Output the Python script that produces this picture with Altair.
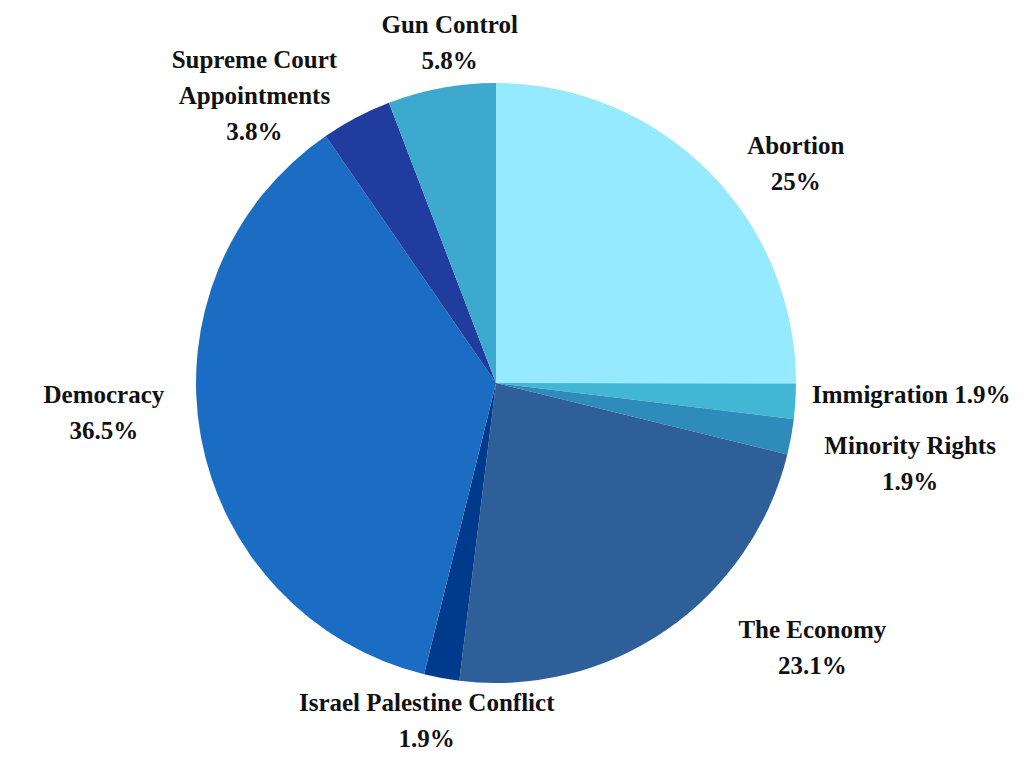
import altair as alt
import pandas as pd

topics = ["Abortion", "Immigration", "Minority Rights", "The Economy",
          "Israel Palestine Conflict", "Democracy", "Supreme Court Appointments", "Gun Control"]
display_names = ["Abortion", "Immigration", "Minority Rights", "The Economy",
                 "Israel Palestine Conflict", "Democracy", "Supreme Court\nAppointments", "Gun Control"]
separators = ["\n", " ", "\n", "\n", "\n", "\n", "\n", "\n"]
shares = [25.0, 1.9, 1.9, 23.1, 1.9, 36.5, 3.8, 5.8]
colors = ["#95EAFD", "#41B6D5", "#2E8BBA", "#2F5F98", "#003A8C", "#1B6CC3", "#203C9E", "#3DA9CE"]

df = pd.DataFrame({
    "topic": topics,
    "share": shares,
    "order": list(range(len(topics))),
    "label": [f"{n}{s}{v:g}%" for n, s, v in zip(display_names, separators, shares)],
})
total = float(sum(shares))

CX, CY = 488, 375
theta_scale = alt.Scale(domain=[0, total])

base = alt.Chart(df).transform_window(
    s1="sum(share)", sort=[alt.SortField("order")], frame=[None, 0]
).transform_calculate(
    s0="datum.s1 - datum.share", mid="datum.s1 - datum.share / 2"
)

pie = base.mark_arc(outerRadius=300, stroke=None).encode(
    theta=alt.Theta("s0:Q", scale=theta_scale),
    theta2="s1:Q",
    x=alt.value(CX), y=alt.value(CY),
    color=alt.Color("topic:N", scale=alt.Scale(domain=topics, range=colors), legend=None),
)

offsets = {
    "Abortion": (45, 17),
    "Immigration": (56, -10),
    "Minority Rights": (60, -2),
    "The Economy": (112, -49),
    "Israel Palestine Conflict": (-4, -34),
    "Democracy": (-38, -53),
    "Supreme Court Appointments": (-74, -4),
    "Gun Control": (19, -4),
}

layers = [pie]
for t in topics:
    dx, dy = offsets[t]
    layers.append(
        base.transform_filter(alt.datum.topic == t).mark_text(
            radius=360, dx=dx, dy=dy, font="Liberation Serif", fontWeight="bold",
            fontSize=25, lineHeight=36, lineBreak="\n", align="center", baseline="middle",
            color="#111111",
        ).encode(
            theta=alt.Theta("mid:Q", scale=theta_scale),
            x=alt.value(CX), y=alt.value(CY), text="label:N",
        )
    )

chart = alt.layer(*layers).properties(
    width=1008, height=752, padding=0, autosize=alt.AutoSizeParams(type="none")
).configure_view(stroke=None)

chart.save("out.html", embed_options={"renderer": "svg", "actions": False})
